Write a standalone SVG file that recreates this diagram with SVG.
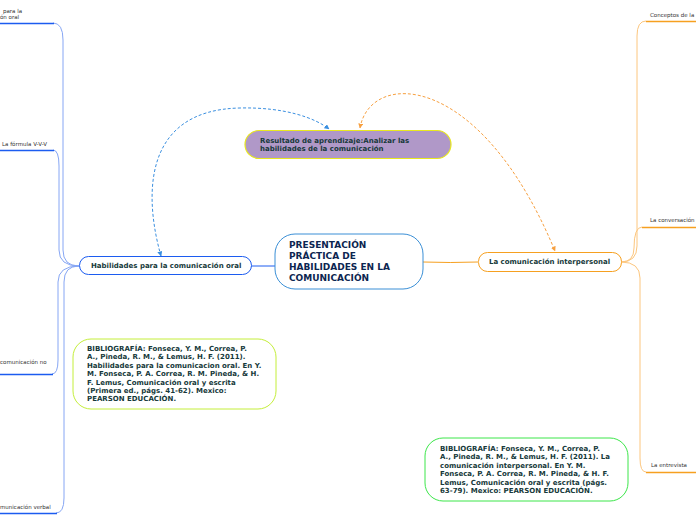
<svg xmlns="http://www.w3.org/2000/svg" width="696" height="520" viewBox="0 0 696 520">
<style>
.bt{font-family:"DejaVu Sans",Verdana,sans-serif;font-weight:bold;font-size:7px;fill:#16393a}
.ct{font-family:"DejaVu Sans",Verdana,sans-serif;font-weight:bold;font-size:9px;fill:#0c2550}
.sm{font-family:"DejaVu Sans",Verdana,sans-serif;font-size:5.5px;fill:#333}
.cb{fill:none;stroke:#86a6f4;stroke-width:1}
.ub{fill:none;stroke:#1c5cf0;stroke-width:1.6}
.co{fill:none;stroke:#fcc67e;stroke-width:1}
.uo{fill:none;stroke:#f6a020;stroke-width:1.6}
</style>
<defs>
<marker id="ab" viewBox="0 0 10 10" refX="9" refY="5" markerWidth="5" markerHeight="5" orient="auto-start-reverse"><path d="M0,0L10,5L0,10z" fill="#3a8fe0"/></marker>
<marker id="ao" viewBox="0 0 10 10" refX="9" refY="5" markerWidth="5" markerHeight="5" orient="auto-start-reverse"><path d="M0,0L10,5L0,10z" fill="#f7a040"/></marker>
</defs>
<rect width="696" height="520" fill="#fff"/>
<g id="connectors">
<path class="cb" d="M79,266 Q63,266 63,250 L63,40 Q63,23 53,23"/>
<path class="cb" d="M79,266 Q59,266 59,250 L59,166 Q59,150 53,150"/>
<path class="cb" d="M79,266 Q58,266 58,282 L58,360 Q58,374 52,374"/>
<path class="cb" d="M79,266 Q64,266 64,282 L64,498 Q64,513 56,513"/>
<path class="ub" d="M0,23.5H54"/>
<path class="ub" d="M0,150.5H54"/>
<path class="ub" d="M0,374.5H53"/>
<path class="ub" d="M0,513.5H57"/>
<path class="co" d="M621,262 Q637,262 637,246 L637,36 Q637,21 646,21"/>
<path class="co" d="M621,262 Q634,262 634,248 Q634,227 642,227"/>
<path class="co" d="M621,262 Q640,262 640,278 L640,458 Q640,472 646,472"/>
<path class="uo" d="M646,21.5H696"/>
<path class="uo" d="M642,227.5H696"/>
<path class="uo" d="M646,472.5H696"/>
<path d="M251,266H275" fill="none" stroke="#1c5cf0" stroke-width="1"/>
<path d="M423,262 Q450,263 478,262" fill="none" stroke="#f6a020" stroke-width="1"/>
<path d="M161,256 C145,200 140,110 240,108 C285,107 315,118 329,129" fill="none" stroke="#3a8fe0" stroke-width="1" stroke-dasharray="3,2" marker-start="url(#ab)" marker-end="url(#ab)"/>
<path d="M360,128 C370,70 480,70 555,251" fill="none" stroke="#f7a040" stroke-width="1" stroke-dasharray="3,2" marker-start="url(#ao)" marker-end="url(#ao)"/>
</g>
<g id="n-b1"><text class="sm" x="3" y="13">para la</text><text class="sm" x="0" y="19">ón oral</text></g>
<g id="n-b2"><text class="sm" x="2" y="146">La fórmula V-V-V</text></g>
<g id="n-b3"><text class="sm" x="0" y="364">comunicación no</text></g>
<g id="n-b4"><text class="sm" x="0" y="509">municación verbal</text></g>
<g id="n-r1"><text class="sm" x="650" y="17">Conceptos de la</text></g>
<g id="n-r2"><text class="sm" x="650" y="222">La conversación</text></g>
<g id="n-r3"><text class="sm" x="651" y="467">La entrevista</text></g>
<g id="n-center">
<rect x="275" y="234" width="148" height="55" rx="20" fill="#fff" stroke="#3a8fd6" stroke-width="1"/>
<text class="ct" x="289" y="248">PRESENTACIÓN</text>
<text class="ct" x="289" y="259">PRÁCTICA DE</text>
<text class="ct" x="289" y="270">HABILIDADES EN LA</text>
<text class="ct" x="289" y="281">COMUNICACIÓN</text>
</g>
<g id="n-result">
<rect x="245" y="130.5" width="206" height="28" rx="14" fill="#b098c8" stroke="#e8e820" stroke-width="1.2"/>
<text class="bt" x="260" y="143">Resultado de aprendizaje:Analizar las</text>
<text class="bt" x="260" y="151">habilidades de la comunicación</text>
</g>
<g id="n-left">
<rect x="79.5" y="256.5" width="172" height="18" rx="9" fill="#fff" stroke="#1c5cf0" stroke-width="1"/>
<text class="bt" x="91" y="268">Habilidades para la comunicación oral</text>
</g>
<g id="n-right">
<rect x="478.5" y="252.5" width="143" height="19" rx="9" fill="#fff" stroke="#f6a020" stroke-width="1"/>
<text class="bt" x="489" y="264">La comunicación interpersonal</text>
</g>
<g id="n-bib1">
<rect x="73" y="339" width="203" height="70" rx="18" fill="#fff" stroke="#c4ee3a" stroke-width="1"/>
<text class="bt" x="87" y="351">BIBLIOGRAFÍA: Fonseca, Y. M., Correa, P.</text>
<text class="bt" x="87" y="359.4">A., Pineda, R. M., &amp; Lemus, H. F. (2011).</text>
<text class="bt" x="87" y="367.8">Habilidades para la comunicacion oral. En Y.</text>
<text class="bt" x="87" y="376.2">M. Fonseca, P. A. Correa, R. M. Pineda, &amp; H.</text>
<text class="bt" x="87" y="384.6">F. Lemus, Comunicación oral y escrita</text>
<text class="bt" x="87" y="393">(Primera ed., págs. 41-62). Mexico:</text>
<text class="bt" x="87" y="401.4">PEARSON EDUCACIÓN.</text>
</g>
<g id="n-bib2">
<rect x="425" y="438" width="203" height="63" rx="18" fill="#fff" stroke="#3ce64a" stroke-width="1"/>
<text class="bt" x="440" y="451">BIBLIOGRAFÍA: Fonseca, Y. M., Correa, P.</text>
<text class="bt" x="440" y="459.4">A., Pineda, R. M., &amp; Lemus, H. F. (2011). La</text>
<text class="bt" x="440" y="467.8">comunicación interpersonal. En Y. M.</text>
<text class="bt" x="440" y="476.2">Fonseca, P. A. Correa, R. M. Pineda, &amp; H. F.</text>
<text class="bt" x="440" y="484.6">Lemus, Comunicación oral y escrita (págs.</text>
<text class="bt" x="440" y="493">63-79). Mexico: PEARSON EDUCACIÓN.</text>
</g>
</svg>
